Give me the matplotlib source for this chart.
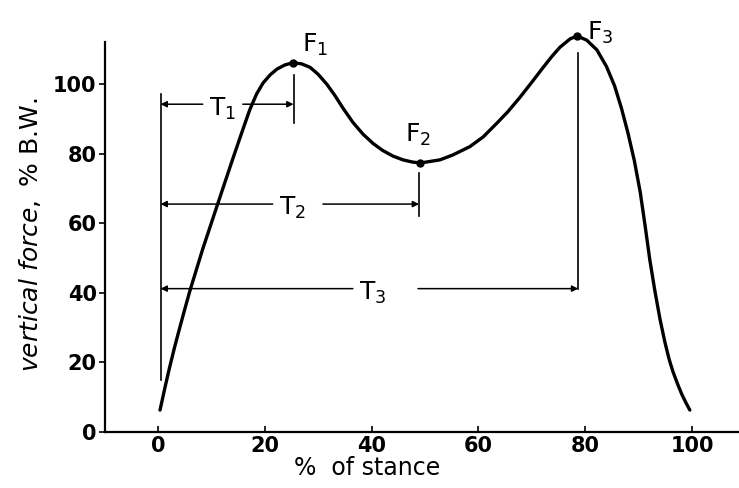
import numpy as np
import matplotlib
matplotlib.use("Agg")
from matplotlib import pyplot as plt

# vertical ground reaction force over stance
stance = [0.4, 1.3, 2.2, 3.1, 4.1, 5.0, 6.0, 8.4, 11.3, 14.0, 15.7, 17.2, 18.5, 19.7,
          21.0, 22.3, 23.8, 25.3, 26.9, 28.5, 30.0, 31.6, 33.1, 34.6, 36.5, 38.4, 40.3,
          42.1, 44.0, 45.9, 47.6, 49.1, 52.8, 55.2, 58.4, 60.9, 63.5, 65.5, 67.8, 70.0,
          72.1, 73.8, 75.3, 77.2, 78.5, 80.3, 82.2, 84.0, 85.5, 86.8, 88.0, 89.2, 90.3,
          91.2, 92.1, 93.0, 94.0, 94.9, 95.7, 96.4, 97.3, 98.1, 98.9, 99.6]
force = [6.3, 12.6, 18.6, 24.2, 30.0, 35.1, 40.6, 52.6, 66.0, 78.4, 86.0, 92.6, 97.2, 100.3,
         102.6, 104.3, 105.5, 106.1, 105.8, 104.8, 102.8, 100.0, 96.8, 93.2, 89.0, 85.6, 82.9,
         80.9, 79.3, 78.2, 77.6, 77.3, 78.2, 79.6, 82.0, 84.8, 88.8, 92.0, 96.2, 100.5,
         104.7, 108.0, 110.6, 113.0, 113.8, 112.6, 109.8, 105.0, 99.5, 93.0, 86.0, 78.0, 69.0,
         59.5, 49.5, 41.0, 32.5, 26.0, 21.0, 17.5, 13.8, 10.8, 8.3, 6.3]

peak_names = ["F_1", "F_2", "F_3"]
peak_x = [25.3, 49.1, 78.5]
peak_y = [106.1, 77.3, 113.8]

time_names = ["T_1", "T_2", "T_3"]
time_y = [94.2, 65.5, 41.2]
time_end = [25.4, 48.9, 78.7]
gap_lo = [8.4, 21.5, 36.5]
gap_hi = [15.9, 30.9, 48.7]

x_ticks = [0, 20, 40, 60, 80, 100]
y_ticks = [0, 20, 40, 60, 80, 100]

fig = plt.figure(figsize=(7.39, 4.88), dpi=100)
ax = fig.add_axes([105/739, 56/488, 634/739, 412/488])
ax.plot(stance, force, c="k", lw=2.4, solid_capstyle="round", solid_joinstyle="round")
ax.plot(peak_x, peak_y, "o", c="k", ms=5)

# heel-strike line
ax.plot([0.5, 0.5], [15, 97], c="k", lw=1.2)

for name, y, x1, lo, hi in zip(time_names, time_y, time_end, gap_lo, gap_hi):
    arr = dict(arrowstyle="-|>", color="k", lw=1.1, mutation_scale=9, shrinkA=0, shrinkB=0)
    ax.annotate("", xy=(0.5, y), xytext=(lo, y), arrowprops=arr)
    ax.annotate("", xy=(x1, y), xytext=(hi, y), arrowprops=arr)
    ax.text(lo + 1.2, y - 3.2, "$\\mathregular{%s}$" % name, fontsize=18, va="baseline", ha="left")

# end ticks of the T arrows
ax.plot([25.4, 25.4], [88.8, 102.6], c="k", lw=1.2)
ax.plot([48.9, 48.9], [62.0, 74.4], c="k", lw=1.2)
ax.plot([78.7, 78.7], [41.2, 108.9], c="k", lw=1.2)

label_pos = [(27.0, 109.2), (46.3, 83.3), (80.3, 112.6)]
for name, (lx, ly) in zip(peak_names, label_pos):
    ax.text(lx, ly, "$\\mathregular{%s}$" % name, fontsize=18, va="baseline", ha="left", clip_on=False)

ax.set_xlim(-9.9, 108.8)
ax.set_ylim(0, 118.4)
ax.spines["top"].set_visible(False)
ax.spines["right"].set_visible(False)
ax.spines["left"].set_bounds(0, 112)
for s in ["left", "bottom"]:
    ax.spines[s].set_linewidth(1.6)
ax.set_xticks(x_ticks)
ax.set_yticks(y_ticks)
ax.tick_params(axis="x", direction="in", length=4, width=1.2, pad=3)
ax.tick_params(axis="y", direction="out", length=4, width=1.2, pad=2)
for lab in ax.get_xticklabels() + ax.get_yticklabels():
    lab.set_fontsize(15)
    lab.set_fontweight("bold")

fig.text(367/739, 1 - 468/488, "%  of stance", fontsize=17, ha="center", va="center")
fig.text(30/739, 1 - 235/488, "$\\it{vertical\\ force,}$ % B.W.", fontsize=18,
         rotation=90, ha="center", va="center")

plt.savefig("out.png", dpi=100)
plt.close()
